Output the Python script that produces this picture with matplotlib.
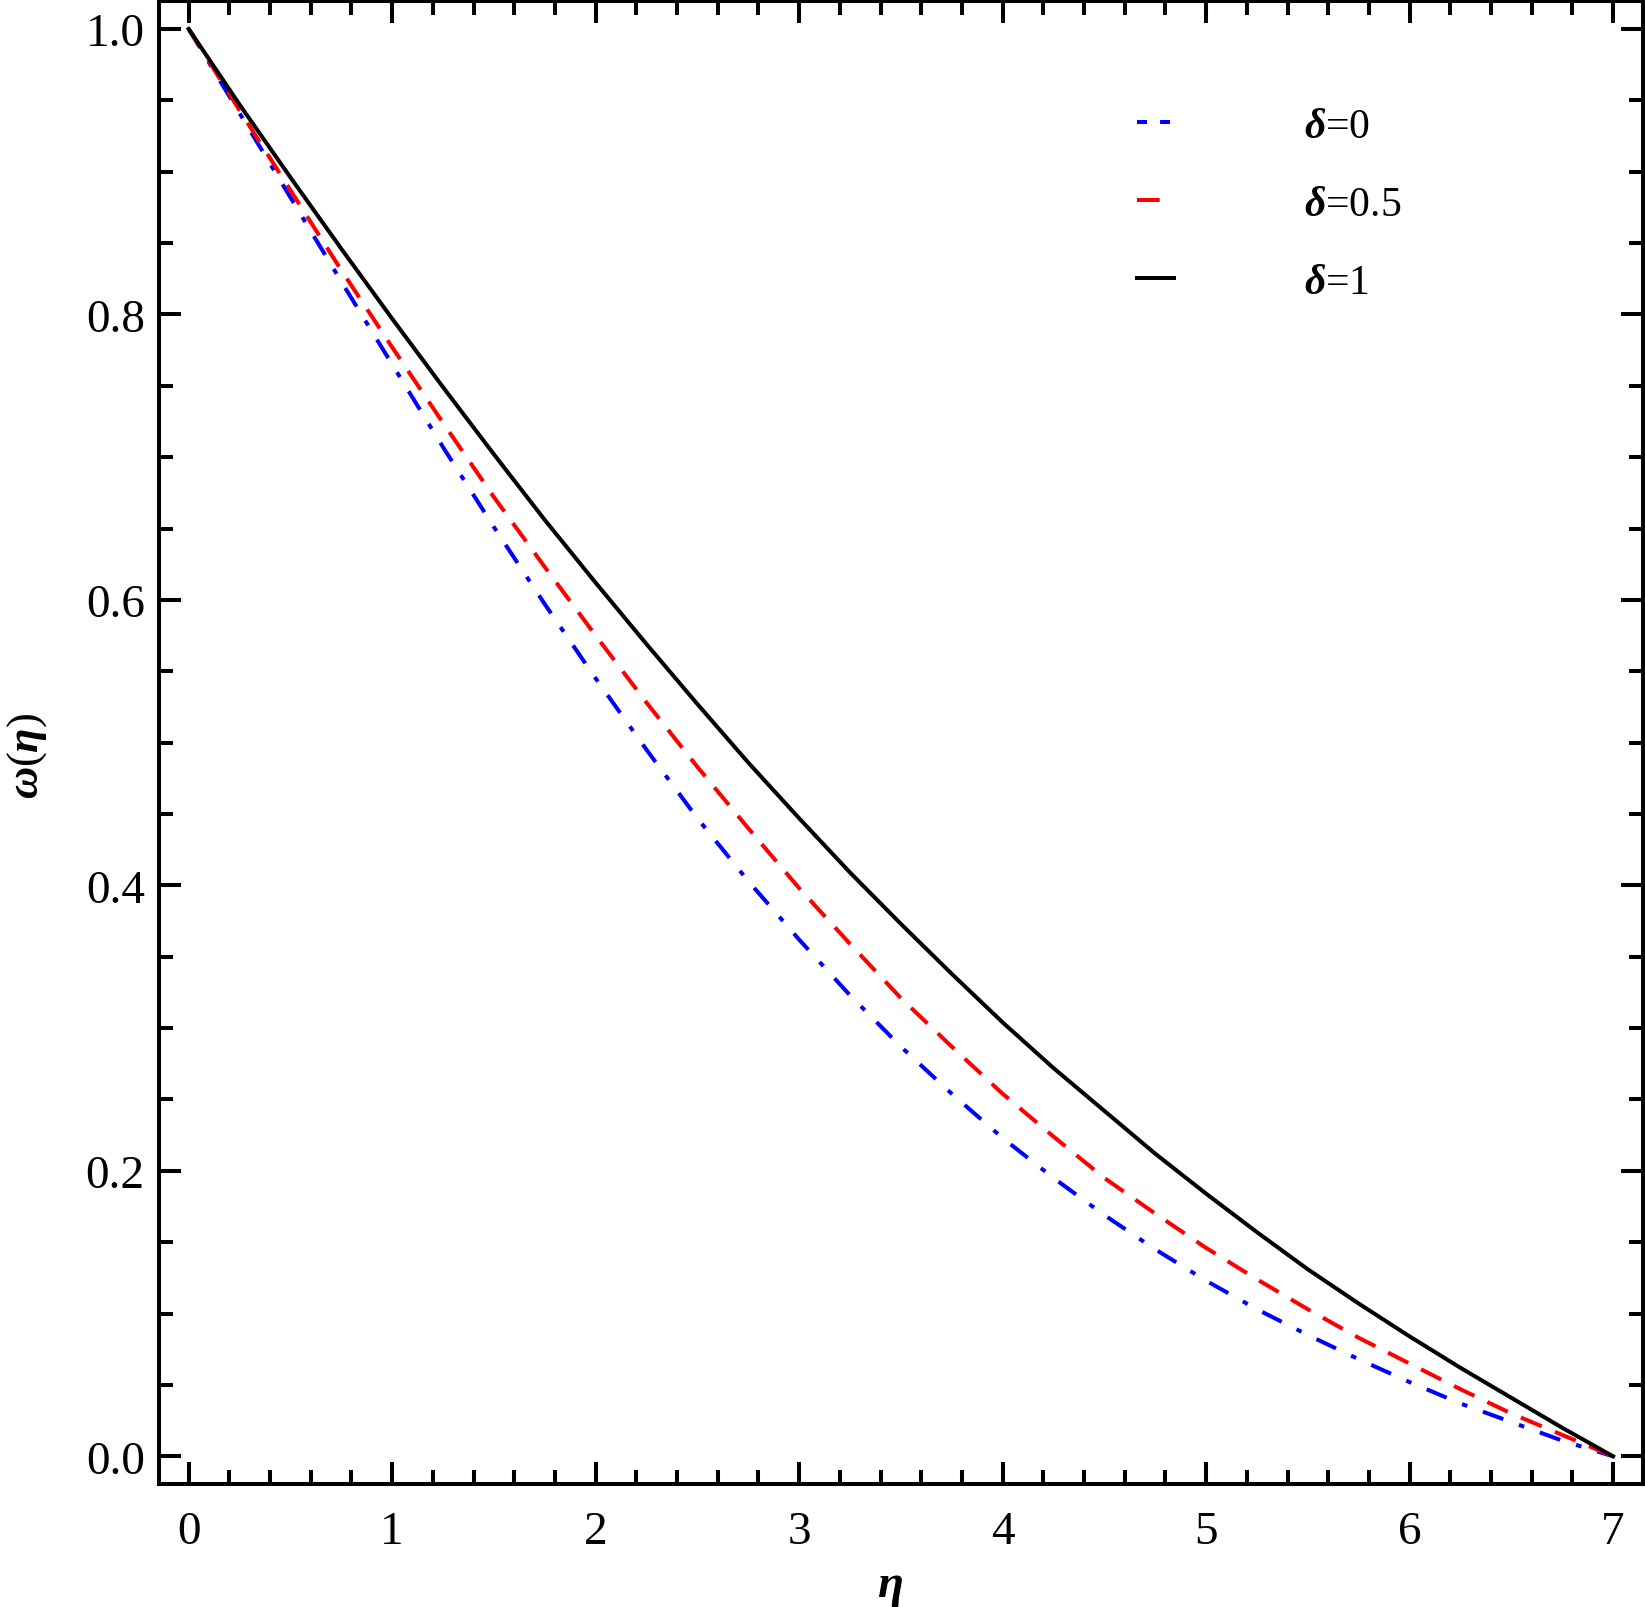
import matplotlib
matplotlib.use("Agg")
import matplotlib.pyplot as plt
from matplotlib.ticker import MultipleLocator, FormatStrFormatter

# values
eta = [0.0, 0.25, 0.5, 0.75, 1.0, 1.25, 1.5, 1.75, 2.0, 2.25, 2.5, 2.75, 3.0, 3.25,
       3.5, 3.75, 4.0, 4.25, 4.5, 4.75, 5.0, 5.25, 5.5, 5.75, 6.0, 6.25, 6.5, 6.75, 7.0]
omega_d0 = [1.000, 0.941, 0.882, 0.823, 0.765, 0.707, 0.651, 0.597, 0.545, 0.495,
            0.447, 0.403, 0.362, 0.323, 0.287, 0.254, 0.223, 0.195, 0.169, 0.145,
            0.123, 0.103, 0.085, 0.068, 0.052, 0.037, 0.024, 0.011, 0.000]
omega_d05 = [1.000, 0.943, 0.887, 0.831, 0.777, 0.724, 0.672, 0.623, 0.575, 0.528,
             0.483, 0.440, 0.398, 0.359, 0.321, 0.287, 0.254, 0.224, 0.195, 0.170,
             0.146, 0.124, 0.103, 0.083, 0.065, 0.047, 0.030, 0.015, 0.000]
omega_d1 = [1.000, 0.947, 0.896, 0.846, 0.797, 0.749, 0.702, 0.656, 0.612, 0.569,
            0.527, 0.486, 0.447, 0.409, 0.373, 0.338, 0.304, 0.272, 0.242, 0.212,
            0.184, 0.157, 0.131, 0.107, 0.084, 0.062, 0.041, 0.020, 0.000]
labels = ["=0", "=0.5", "=1"]

plt.rcParams['font.family'] = ['Liberation Serif', 'DejaVu Serif']
plt.rcParams['mathtext.fontset'] = 'custom'
plt.rcParams['mathtext.rm'] = 'Liberation Serif'
plt.rcParams['mathtext.it'] = 'Liberation Serif:italic:bold'
plt.rcParams['mathtext.bf'] = 'Liberation Serif:bold'
plt.rcParams['lines.scale_dashes'] = False

fig = plt.figure(figsize=(16.45, 16.08), dpi=100)
ax = fig.add_axes([0.0965, 0.0763, 0.9023, 0.9225])

lw = 2.9
ax.plot(eta, omega_d0, color=(0, 0, 1), lw=lw, dashes=[15.6, 12, 4, 12],
        label=r"$\delta$" + labels[0])
ax.plot(eta, omega_d05, color=(1, 0, 0), lw=lw, dashes=[16.3, 10.3],
        label=r"$\delta$" + labels[1])
ax.plot(eta, omega_d1, color="black", lw=lw, label=r"$\delta$" + labels[2])

ax.set_xlim(-0.147, 7.147)
ax.set_ylim(-0.0196, 1.0196)
ax.xaxis.set_major_locator(MultipleLocator(1))
ax.xaxis.set_minor_locator(MultipleLocator(0.2))
ax.yaxis.set_major_locator(MultipleLocator(0.2))
ax.yaxis.set_minor_locator(MultipleLocator(0.05))
ax.yaxis.set_major_formatter(FormatStrFormatter('%.1f'))

ax.tick_params(which='both', direction='in', top=True, right=True, width=2.9,
               labelsize=34)
ax.tick_params(which='major', length=15.8)
ax.tick_params(which='minor', length=10)
ax.tick_params(axis='x', pad=18.5)
ax.tick_params(axis='y', pad=10)
for s in ax.spines.values():
    s.set_linewidth(2.9)

# axis labels placed where they sit in the reference
fig.text(890 / 1645, 1 - 1588 / 1608, r"$\eta$", fontsize=34,
         ha='center', va='center')
fig.text(27 / 1645, 1 - 756 / 1608, r"$\omega$($\eta$)", fontsize=32,
         rotation=90, ha='center', va='center')

leg = ax.legend(loc='upper left', bbox_to_anchor=(0.691, 0.9327),
                bbox_transform=fig.transFigure, frameon=False, fontsize=30,
                handlelength=0.89, handletextpad=3.12, labelspacing=0.95,
                borderpad=0, borderaxespad=0)
leg.get_lines()[0].set_dashes([7.2, 9.4])

fig.savefig("out.png", dpi=100)
